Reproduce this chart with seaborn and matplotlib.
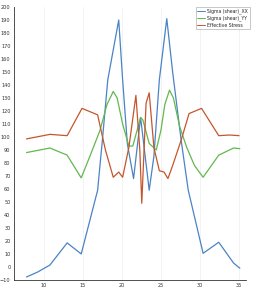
import matplotlib
matplotlib.use("Agg")
import matplotlib.pyplot as plt
import seaborn as sns
import pandas as pd

# ---- data ----
xx_x = [7.8, 9.2, 10.8, 13.0, 14.8, 16.9, 17.5, 18.2, 19.6, 20.1, 20.7, 21.5,
        22.4, 23.5, 24.1, 24.8, 25.75, 26.5, 27.6, 28.5, 30.4, 32.4, 34.3, 35.1]
xx_y = [-7.7, -4, 1.5, 18.5, 10, 59, 97, 144, 190, 144, 95, 68,
        115, 59, 85, 144, 191, 150, 97, 59, 10.5, 19, 3, -1]

yy_x = [7.8, 10.8, 13.0, 14.8, 15.9, 17.2, 18.1, 18.9, 19.4, 20.1, 20.9, 21.4,
        22.4, 22.7, 23.5, 24.4, 25.0, 25.5, 26.1, 26.6, 27.4, 28.3, 29.3, 30.4,
        32.4, 34.3, 35.1]
yy_y = [88, 91.5, 86, 68.5, 85, 105, 125, 135, 130, 110, 93, 93,
        115, 113, 95, 90, 105, 125, 136, 130, 108, 92, 78, 69,
        86, 91.5, 91]

ef_x = [7.8, 10.8, 13.0, 14.9, 16.9, 17.9, 18.9, 19.6, 20.1, 20.9, 21.8, 22.3,
        22.55, 23.1, 23.5, 24.1, 24.8, 25.4, 25.9, 26.5, 27.6, 28.6, 30.2,
        32.4, 33.8, 35.0]
ef_y = [98.5, 102, 101, 122, 117, 90, 69, 73, 69, 92, 132, 90,
        49, 126, 134, 92, 74, 73, 68, 78, 97.7, 118, 122,
        101, 101.5, 101]

series_names = ["Sigma (shear)_XX", "Sigma (shear)_YY", "Effective Stress"]
colors = ["#4a83c6", "#62b84f", "#c4562d"]

y_ticks = list(range(-10, 201, 10))
x_ticks = [10, 15, 20, 25, 30, 35]

df = pd.concat([
    pd.DataFrame({"x": xx_x, "y": xx_y, "series": series_names[0]}),
    pd.DataFrame({"x": yy_x, "y": yy_y, "series": series_names[1]}),
    pd.DataFrame({"x": ef_x, "y": ef_y, "series": series_names[2]}),
])

sns.set_theme(style="white")
plt.rcParams["font.family"] = ["DejaVu Sans"]

fig = plt.figure(figsize=(2.55, 2.91), dpi=100)
ax = fig.add_axes([0.055, 0.038, 0.91, 0.938])

sns.lineplot(data=df, x="x", y="y", hue="series", palette=colors,
             estimator=None, sort=False, linewidth=0.9, ax=ax)

ax.set_xlim(6.2, 35.9)
ax.set_ylim(-10, 200)
ax.set_xticks(x_ticks)
ax.set_yticks(y_ticks)
ax.tick_params(labelsize=3.6, length=1.5, width=0.5, pad=1, colors="#333333")
ax.set_xlabel("")
ax.set_ylabel("")
ax.grid(axis="x", color="#eeeeee", linewidth=0.5)
for s in ["top", "right"]:
    ax.spines[s].set_visible(False)
for s in ["left", "bottom"]:
    ax.spines[s].set_color("#333333")
    ax.spines[s].set_linewidth(0.6)

leg = ax.legend(loc="upper right", fontsize=3.3, frameon=True, fancybox=False,
                handlelength=1.6, handletextpad=0.5, borderpad=0.4,
                labelspacing=0.3, bbox_to_anchor=(1.025, 1.01))
leg.get_frame().set_edgecolor("#888888")
leg.get_frame().set_linewidth(0.4)
for line in leg.get_lines():
    line.set_linewidth(0.7)

fig.savefig("out.png", dpi=100)
